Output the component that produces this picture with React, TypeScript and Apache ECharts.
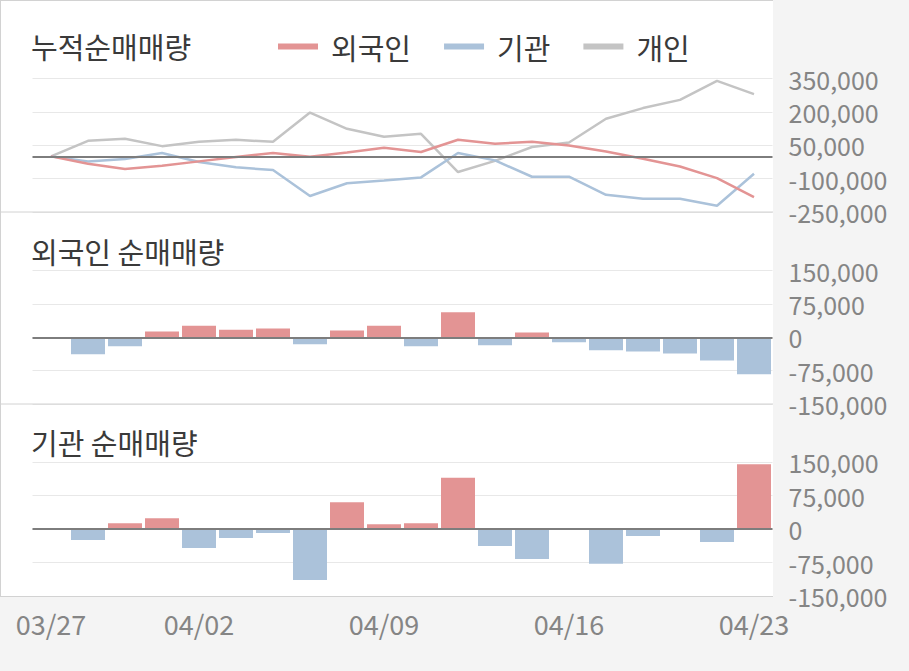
import React, { useEffect, useRef } from "react";
import * as echarts from "echarts";

const categories = [
  "03/27", "03/28", "03/29", "04/01", "04/02", "04/03", "04/04", "04/05", "04/08", "04/09",
  "04/10", "04/11", "04/12", "04/15", "04/16", "04/17", "04/18", "04/19", "04/22", "04/23",
];
const shownLabelIndex = [0, 4, 9, 14, 19];

const foreignCum = [0, -33000, -57000, -42000, -22500, -3000, 15000, -2000, 17500, 38500, 19500, 74500, 56500, 65500, 49000, 22000, -11000, -45500, -97500, -183000];
const instCum = [0, -22500, -12000, 15000, -25500, -49000, -61500, -178000, -121000, -108000, -94500, 15000, -18000, -91500, -91500, -172500, -190500, -190500, -222000, -78000];
const indivCum = [0, 70000, 79000, 46000, 65500, 74500, 65500, 197000, 124000, 88000, 101500, -70500, -20000, 42000, 62500, 169000, 217000, 254000, 339500, 280000];

const foreignNet = [0, -38000, -20000, 13000, 26000, 17000, 19500, -15500, 15000, 26000, -20000, 56000, -18000, 10500, -11000, -29000, -32000, -36500, -52000, -83000];
const instNet = [0, -24600, 12700, 24000, -42500, -20000, -9000, -114000, 60000, 10500, 12700, 115000, -38000, -67000, 0, -78000, -15700, 0, -29000, 145000];

const FONT = "'Noto Sans CJK KR', 'Noto Sans', sans-serif";
const RED = "#e39494";
const BLUE = "#abc2da";
const GRAY = "#c4c4c4";
const LABEL = "#858585";

export default function App() {
  const ref = useRef<HTMLDivElement>(null);
  useEffect(() => {
    if (!ref.current) return;
    const chart = echarts.init(ref.current, null, { renderer: "svg" });
    const fmt = (v: number) => v.toLocaleString("en-US");
    const zeroLine = {
      silent: true,
      symbol: ["none", "none"],
      label: { show: false },
      lineStyle: { color: "#7d7d7d", width: 2, type: "solid" },
      data: [{ yAxis: 0 }],
    };
    const grids = [
      { left: 32.5, right: 136.5, top: 78.5, height: 133.5 },
      { left: 32.5, right: 136.5, top: 270.5, height: 133.5 },
      { left: 32.5, right: 136.5, top: 462, height: 134 },
    ];
    const yRanges = [
      { min: -250000, max: 350000, interval: 150000 },
      { min: -150000, max: 150000, interval: 75000 },
      { min: -150000, max: 150000, interval: 75000 },
    ];
    const titleStyle = { fontSize: 29, color: "#3a3a3a", fontWeight: "normal", fontFamily: FONT };
    chart.setOption({
      animation: false,
      backgroundColor: "#f4f4f4",
      textStyle: { fontFamily: FONT },
      graphic: [
        { type: "rect", z: -10, shape: { x: 0, y: 0, width: 773, height: 597 }, style: { fill: "#ffffff" } },
        { type: "line", z: 10, shape: { x1: 0, y1: 0.5, x2: 773, y2: 0.5 }, style: { stroke: "#d2d2d2", lineWidth: 1 } },
        { type: "line", z: 10, shape: { x1: 0.5, y1: 0, x2: 0.5, y2: 597 }, style: { stroke: "#d2d2d2", lineWidth: 1 } },
        { type: "line", z: 10, shape: { x1: 0, y1: 212, x2: 773, y2: 212 }, style: { stroke: "#d2d2d2", lineWidth: 1 } },
        { type: "line", z: 10, shape: { x1: 0, y1: 404, x2: 773, y2: 404 }, style: { stroke: "#d2d2d2", lineWidth: 1 } },
        { type: "line", z: 10, shape: { x1: 0, y1: 596.5, x2: 773, y2: 596.5 }, style: { stroke: "#d2d2d2", lineWidth: 1 } },
      ],
      title: [
        { text: "누적순매매량", left: 31, top: 31, padding: 0, textStyle: titleStyle },
        { text: "외국인 순매매량", left: 31, top: 236, padding: 0, textStyle: titleStyle },
        { text: "기관 순매매량", left: 31, top: 427, padding: 0, textStyle: titleStyle },
      ],
      legend: {
        left: 278,
        top: 32,
        padding: 0,
        icon: "rect",
        itemWidth: 40,
        itemHeight: 6,
        itemGap: 33,
        data: ["외국인", "기관", "개인"],
        textStyle: { fontSize: 29, color: "#3a3a3a", fontFamily: FONT, padding: [0, 0, 0, 8] },
      },
      grid: grids,
      xAxis: grids.map((_, i) => ({
        type: "category",
        gridIndex: i,
        data: categories,
        boundaryGap: true,
        axisLine: { show: false },
        axisTick: { show: false },
        splitLine: { show: false },
        axisLabel: {
          show: i === 2,
          interval: (idx: number) => shownLabelIndex.includes(idx),
          margin: 14,
          fontSize: 27,
          color: LABEL,
          fontFamily: FONT,
        },
      })),
      yAxis: yRanges.map((r, i) => ({
        type: "value",
        gridIndex: i,
        position: "right",
        min: r.min,
        max: r.max,
        interval: r.interval,
        axisLine: { show: false },
        axisTick: { show: false },
        splitLine: { show: true, lineStyle: { color: "#e8e8e8", width: 1 } },
        axisLabel: { margin: 16, fontSize: 25, lineHeight: 26, color: LABEL, fontFamily: FONT, formatter: fmt },
      })),
      series: [
        {
          name: "외국인",
          type: "line",
          xAxisIndex: 0,
          yAxisIndex: 0,
          data: foreignCum,
          symbol: "none",
          color: RED,
          lineStyle: { width: 2.5, color: RED },
          z: 4,
        },
        {
          name: "기관",
          type: "line",
          xAxisIndex: 0,
          yAxisIndex: 0,
          data: instCum,
          symbol: "none",
          color: BLUE,
          lineStyle: { width: 2.5, color: BLUE },
          z: 3,
        },
        {
          name: "개인",
          type: "line",
          xAxisIndex: 0,
          yAxisIndex: 0,
          data: indivCum,
          symbol: "none",
          color: GRAY,
          lineStyle: { width: 2.5, color: GRAY },
          z: 2,
          markLine: zeroLine,
        },
        {
          name: "외국인 순매매",
          type: "bar",
          xAxisIndex: 1,
          yAxisIndex: 1,
          data: foreignNet,
          barWidth: 34,
          itemStyle: { color: (p: any) => (p.value >= 0 ? RED : BLUE) },
          markLine: zeroLine,
        },
        {
          name: "기관 순매매",
          type: "bar",
          xAxisIndex: 2,
          yAxisIndex: 2,
          data: instNet,
          barWidth: 34,
          itemStyle: { color: (p: any) => (p.value >= 0 ? RED : BLUE) },
          markLine: zeroLine,
        },
      ],
    });
    return () => chart.dispose();
  }, []);
  return (
    <div
      ref={ref}
      style={{ position: "fixed", left: 0, top: 0, width: 909, height: 671 }}
    />
  );
}
